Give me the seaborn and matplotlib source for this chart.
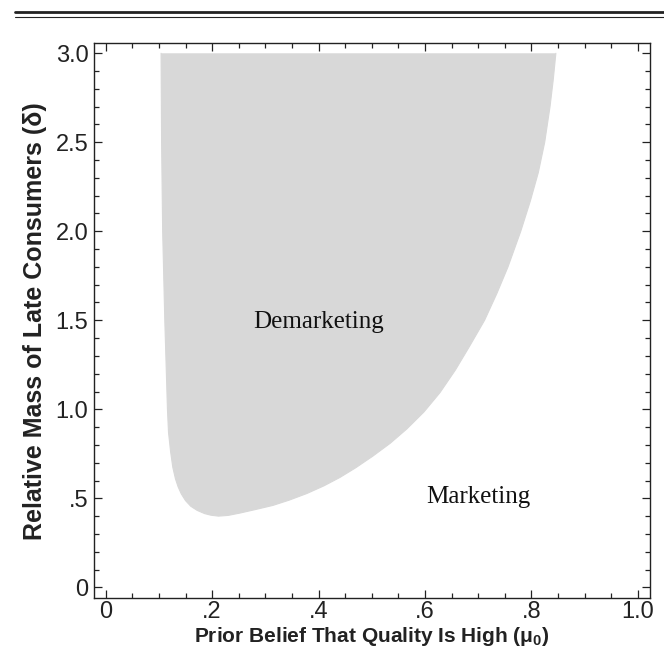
import numpy as np
import pandas as pd
import seaborn as sns
import matplotlib.pyplot as plt
from matplotlib.lines import Line2D
from matplotlib.ticker import MultipleLocator, FixedLocator

# boundary of the demarketing region
# left branch, from top down to the lowest point
mu_left = [0.104, 0.105, 0.107, 0.111, 0.114, 0.116, 0.118, 0.122, 0.126, 0.131,
           0.136, 0.142, 0.150, 0.160, 0.172, 0.186, 0.198, 0.212]
delta_left = [3.0, 2.5, 2.0, 1.5, 1.2, 1.0, 0.87, 0.76, 0.675, 0.61,
              0.565, 0.525, 0.487, 0.455, 0.432, 0.414, 0.405, 0.40]
# right branch, from the lowest point up to the top
mu_right = [0.212, 0.23, 0.252, 0.28, 0.314, 0.345, 0.378, 0.41, 0.44, 0.47,
            0.502, 0.535, 0.566, 0.598, 0.628, 0.657, 0.683, 0.712, 0.735, 0.756,
            0.780, 0.798, 0.813, 0.825, 0.835, 0.841, 0.846]
delta_right = [0.40, 0.404, 0.417, 0.436, 0.46, 0.49, 0.527, 0.57, 0.617, 0.672,
               0.737, 0.81, 0.89, 0.985, 1.093, 1.22, 1.35, 1.5, 1.65, 1.8,
               2.0, 2.17, 2.33, 2.5, 2.7, 2.85, 3.0]

x_ticks = [0, 0.2, 0.4, 0.6, 0.8, 1.0]
x_labels = ['0', '.2', '.4', '.6', '.8', '1.0']
y_ticks = [0, 0.5, 1.0, 1.5, 2.0, 2.5, 3.0]
y_labels = ['0', '.5', '1.0', '1.5', '2.0', '2.5', '3.0']

region = pd.DataFrame({'mu': mu_left + mu_right, 'delta': delta_left + delta_right})

sns.set_theme(style='ticks')
plt.rcParams['font.family'] = ['Liberation Sans', 'DejaVu Sans']
plt.rcParams['mathtext.fontset'] = 'custom'
plt.rcParams['mathtext.rm'] = 'Liberation Sans'
plt.rcParams['mathtext.bf'] = 'Liberation Sans:bold'

fig = plt.figure(figsize=(6.64, 6.53), dpi=100)
ax = fig.add_axes([0.1416, 0.0842, 0.8374, 0.8495])

gray = '#d8d8d8'
ax.fill(region['mu'], region['delta'], color=gray, lw=0)
sns.lineplot(x='mu', y='delta', data=region, sort=False, estimator=None,
             color=gray, lw=0.8, ax=ax)

ax.text(0.40, 1.49, 'Demarketing', family='Liberation Serif', fontsize=18,
        ha='center', va='center', color='#111111')
ax.text(0.70, 0.51, 'Marketing', family='Liberation Serif', fontsize=18,
        ha='center', va='center', color='#111111')

ax.set_xlim(-0.022, 1.023)
ax.set_ylim(-0.06, 3.056)
ax.xaxis.set_major_locator(FixedLocator(x_ticks))
ax.set_xticklabels(x_labels)
ax.yaxis.set_major_locator(FixedLocator(y_ticks))
ax.set_yticklabels(y_labels)
ax.xaxis.set_minor_locator(MultipleLocator(0.05))
ax.yaxis.set_minor_locator(MultipleLocator(0.1))
ax.tick_params(which='both', direction='in', top=True, right=True,
               color='#222222', width=0.9)
ax.tick_params(which='major', length=6, labelsize=17, pad=4, labelcolor='#222222')
ax.tick_params(axis='x', which='major', pad=2.5)
ax.tick_params(which='minor', length=3.5)
for s in ax.spines.values():
    s.set_linewidth(1.0)
    s.set_color('#222222')

ax.set_xlabel('Prior Belief That Quality Is High (μ$_\\mathbf{0}$)',
              fontsize=15, fontweight='bold', color='#222222', labelpad=1)
ax.set_ylabel('Relative Mass of Late Consumers (δ)',
              fontsize=18, fontweight='bold', color='#222222', labelpad=6)

# journal header rule
fig.add_artist(Line2D([0.0226, 1.0], [0.981, 0.981], color='#222222', lw=2.0))
fig.add_artist(Line2D([0.0226, 1.0], [0.974, 0.974], color='#222222', lw=0.8))

fig.savefig('out.png', dpi=100)
